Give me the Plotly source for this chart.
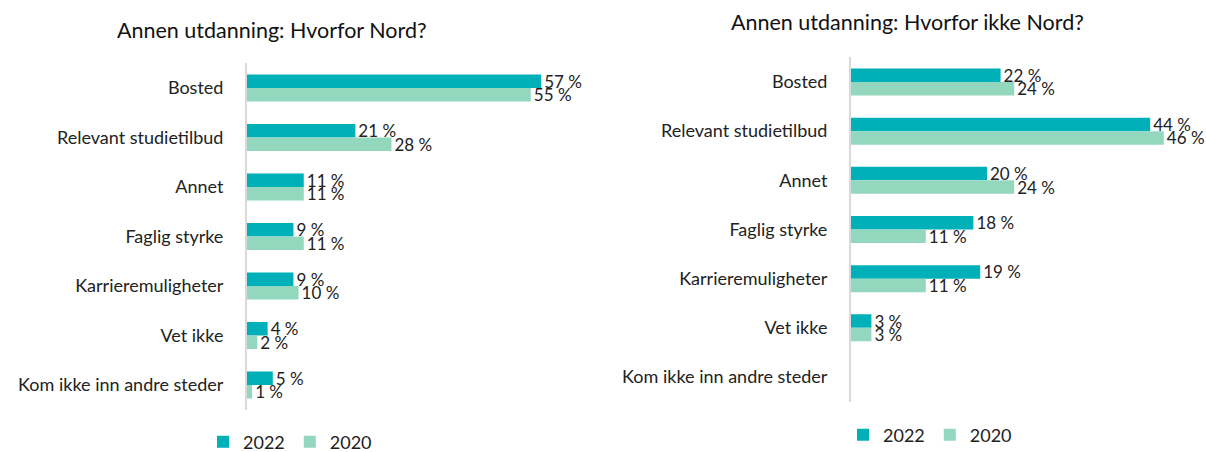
import plotly.graph_objects as go

categories = ["Bosted", "Relevant studietilbud", "Annet", "Faglig styrke",
              "Karrieremuligheter", "Vet ikke", "Kom ikke inn andre steder"]
left_2022 = [57, 21, 11, 9, 9, 4, 5]
left_2020 = [55, 28, 11, 11, 10, 2, 1]
right_2022 = [22, 44, 20, 18, 19, 3, None]
right_2020 = [24, 46, 24, 11, 11, 3, None]
title_left = "Annen utdanning: Hvorfor Nord?"
title_right = "Annen utdanning: Hvorfor ikke Nord?"

C22 = "#00B0B9"
C20 = "#93D7BF"
FONT = "Lato"
FS = 18
OFF = 0  # body margin removed via post_script
W, H = 1206, 452

def lab(vals):
    return [f"{v} %" if v is not None else "" for v in vals]

fig = go.Figure()
for vals, name, col, xa, ya, lg in [
    (left_2022, "2022", C22, "x", "y", "legend"),
    (left_2020, "2020", C20, "x", "y", "legend"),
    (right_2022, "2022", C22, "x2", "y2", "legend2"),
    (right_2020, "2020", C20, "x2", "y2", "legend2"),
]:
    fig.add_trace(go.Bar(
        y=categories, x=vals, name=name, orientation="h",
        marker=dict(color=col, line=dict(width=0)),
        text=lab(vals), textposition="outside", cliponaxis=False,
        constraintext="none",
        textfont=dict(family=FONT, size=17, color="#222222"),
        xaxis=xa, yaxis=ya, legend=lg, hoverinfo="skip",
    ))

def px(x):
    return (x - OFF) / W

def py(y):
    return 1 - (y - OFF) / H

fig.update_layout(
    width=W, height=H, margin=dict(l=0, r=0, t=0, b=0, autoexpand=False),
    paper_bgcolor="white", plot_bgcolor="white",
    barmode="group", bargap=0.45, bargroupgap=0,
    font=dict(family=FONT, size=FS, color="#222222"),
    xaxis=dict(domain=[px(247), px(247 + 60 * 5.16)], range=[0, 60],
               showgrid=False, showticklabels=False, zeroline=False, showline=False),
    yaxis=dict(domain=[py(409.75), py(63.25)], anchor="x",
               autorange="reversed", showgrid=False, zeroline=False,
               showline=True, linecolor="#D9D9D9", linewidth=2,
               ticks="", ticklabelstandoff=18,
               tickfont=dict(family=FONT, size=FS, color="#222222")),
    xaxis2=dict(domain=[px(851), px(851 + 50 * 6.8)], range=[0, 50], anchor="y2",
                showgrid=False, showticklabels=False, zeroline=False, showline=False),
    yaxis2=dict(domain=[py(401.6), py(57.4)], anchor="x2",
                autorange="reversed", showgrid=False, zeroline=False,
                showline=True, linecolor="#D9D9D9", linewidth=2,
                ticks="", ticklabelstandoff=18,
                tickfont=dict(family=FONT, size=FS, color="#222222")),
    legend=dict(orientation="h", x=px(203), y=py(442), xanchor="left", yanchor="middle",
                font=dict(family=FONT, size=FS, color="#222222"),
                itemwidth=30, traceorder="normal", bgcolor="rgba(0,0,0,0)"),
    legend2=dict(orientation="h", x=px(843), y=py(435), xanchor="left", yanchor="middle",
                 font=dict(family=FONT, size=FS, color="#222222"),
                 itemwidth=30, traceorder="normal", bgcolor="rgba(0,0,0,0)"),
    annotations=[
        dict(text=title_left, x=px(272), y=py(30), xref="paper", yref="paper",
             showarrow=False, xanchor="center", yanchor="middle",
             font=dict(family=FONT, size=21.5, color="#111111")),
        dict(text=title_right, x=px(907), y=py(22), xref="paper", yref="paper",
             showarrow=False, xanchor="center", yanchor="middle",
             font=dict(family=FONT, size=21.5, color="#111111")),
    ],
)

fig.write_html("out.html",
               config={"displayModeBar": False, "staticPlot": True},
               post_script="document.body.style.margin='0';document.body.style.overflow='hidden';")
